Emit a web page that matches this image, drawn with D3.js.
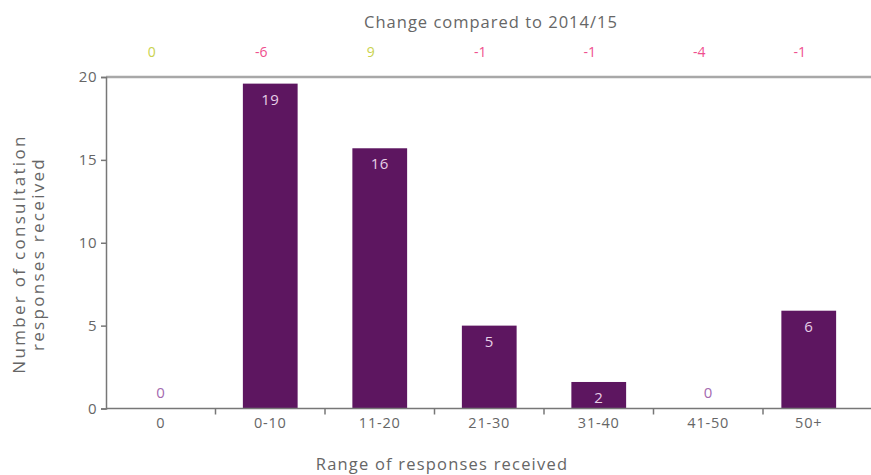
<!DOCTYPE html>
<html><head><meta charset="utf-8">
<script src="https://cdn.jsdelivr.net/npm/d3@7"></script>
<style>
body{margin:0;background:#fff;}
text{font-family:"Open Sans",sans-serif;}
</style></head>
<body><svg id="c" width="871" height="475"></svg>
<script>
const categories = ["0","0-10","11-20","21-30","31-40","41-50","50+"];
const barValues = [0, 19.6, 15.7, 5.0, 1.6, 0, 5.9];
const valueLabels = ["0","19","16","5","2","0","6"];
const changes = [0, -6, 9, -1, -1, -4, -1];
const yTicks = [0,5,10,15,20];

const svg = d3.select("#c");
const xb = d3.scaleBand().domain(categories).range([106, 872.5]);
const y = d3.scaleLinear().domain([0,20]).range([408.5, 77]);
const barW = xb.bandwidth() * 0.5;
// the last column sits slightly left of its band centre in the reference
const cx = (d, i) => xb(d) + xb.bandwidth()/2 - (i === categories.length - 1 ? 9 : 0);

// top gridline at 20
svg.append("line").attr("x1",106).attr("x2",871).attr("y1",y(20)).attr("y2",y(20))
  .attr("stroke","#a8a8a8").attr("stroke-width",2.5);

// bars
svg.selectAll("rect.bar").data(categories).join("rect")
  .attr("x", (d,i)=>cx(d,i) - barW/2).attr("width", barW)
  .attr("y", (d,i)=>y(barValues[i])).attr("height",(d,i)=>y(0)-y(barValues[i]))
  .attr("fill","#5d1660");

// value labels
svg.selectAll("text.val").data(categories).join("text")
  .attr("x", (d,i)=>cx(d,i))
  .attr("y", (d,i)=> barValues[i] > 0 ? y(barValues[i]) + 21 : y(0) - 11)
  .attr("text-anchor","middle").attr("font-size",15).attr("letter-spacing",0.5)
  .attr("fill",(d,i)=> barValues[i] > 0 ? "#e6cfe6" : "#a46ab0")
  .text((d,i)=>valueLabels[i]);

// y axis
const ya = svg.append("g").attr("transform","translate(106,0)")
  .call(d3.axisLeft(y).tickValues(yTicks).tickSize(5).tickPadding(4));
ya.select(".domain").attr("stroke","#777").attr("stroke-width",1.5);
ya.selectAll(".tick line").attr("stroke","#777").attr("stroke-width",1.5);
ya.selectAll(".tick text").attr("font-size",15).attr("fill","#666")
  .attr("font-family","Open Sans").attr("letter-spacing",0.5);

// x axis line
svg.append("line").attr("x1",106).attr("x2",871).attr("y1",y(0)).attr("y2",y(0))
  .attr("stroke","#777").attr("stroke-width",1.5);
// category labels
svg.selectAll("text.cat").data(categories).join("text")
  .attr("x",(d,i)=>cx(d,i)).attr("y",y(0)+19).attr("text-anchor","middle")
  .attr("font-size",14.5).attr("fill","#666").attr("letter-spacing",0.8)
  .text(d=>d);
// separators between categories
svg.selectAll("line.sep").data(categories.slice(1)).join("line")
  .attr("x1",d=>xb(d)).attr("x2",d=>xb(d)).attr("y1",y(0)).attr("y2",y(0)+6)
  .attr("stroke","#777").attr("stroke-width",1.5);

// axis titles
svg.append("text").attr("x",442).attr("y",470).attr("text-anchor","middle")
  .attr("font-size",16.5).attr("letter-spacing",1.2).attr("fill","#666").text("Range of responses received");
const yt = svg.append("text").attr("transform","translate(0,254) rotate(-90)")
  .attr("text-anchor","middle").attr("font-size",17).attr("letter-spacing",2.3).attr("fill","#666");
yt.append("tspan").attr("x",0).attr("y",25).text("Number of consultation");
yt.append("tspan").attr("x",0).attr("y",44).text("responses received");

// top title and change labels
svg.append("text").attr("x",491).attr("y",28).attr("text-anchor","middle")
  .attr("font-size",16.5).attr("letter-spacing",1).attr("fill","#666").text("Change compared to 2014/15");
svg.selectAll("text.chg").data(categories).join("text")
  .attr("x",(d,i)=>cx(d,i) - 9)
  .attr("y",57).attr("text-anchor","middle").attr("font-size",14)
  .attr("fill",(d,i)=>changes[i] < 0 ? "#ef4f8e" : "#c9d24e")
  .text((d,i)=>changes[i]);
</script></body></html>
